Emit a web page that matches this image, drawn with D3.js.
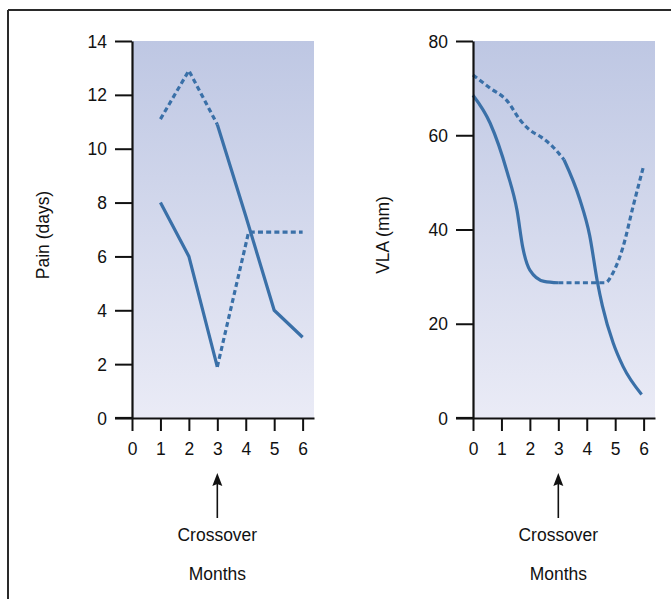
<!DOCTYPE html>
<html>
<head>
<meta charset="utf-8">
<script src="https://cdnjs.cloudflare.com/ajax/libs/d3/7.8.5/d3.min.js"></script>
<style>
  html, body { margin: 0; padding: 0; background: #fff; }
  svg { display: block; }
  text { font-family: "Liberation Sans", Arial, sans-serif; fill: #111; }
</style>
</head>
<body>
<svg id="fig" width="671" height="599"></svg>
<script>
// Month ticks shared by both panels
const monthTicks = [0, 1, 2, 3, 4, 5, 6];
const crossoverMonth = 3;

// Pain (days) — tick labels
const painTicks = [0, 2, 4, 6, 8, 10, 12, 14];
// Group A: starts solid, dotted after crossover
const painAMonths = [1, 2, 3, 4.1, 6];
const painAValues = [8, 6, 1.9, 6.9, 6.9];
// Group B: starts dotted, solid after crossover
const painBMonths = [1, 2, 3, 4, 5, 6];
const painBValues = [11.1, 12.9, 10.9, 7.5, 4, 3];

// VLA (mm) — tick labels
const vlaTicks = [0, 20, 40, 60, 80];
// Group A: solid then dotted
const vlaAMonths = [0, 0.6, 1.2, 1.55, 1.75, 2, 2.5, 3, 4.65, 4.93, 5.28, 5.63, 6];
const vlaAValues = [68.5, 62.6, 52.2, 44, 36.2, 31.4, 29, 28.7, 28.7, 30.9, 36.4, 44.9, 53.5];
// Group B: dotted then solid
const vlaBMonths = [0, 0.6, 1.2, 1.65, 2, 2.4, 2.8, 3.2, 3.76, 4.1, 4.38, 4.55, 4.93, 5.28, 5.93];
const vlaBValues = [72.8, 70, 67.3, 63.3, 61.1, 59.6, 57.6, 54.8, 46.3, 38.8, 28.7, 23.8, 15.9, 10.9, 5];

const svg = d3.select("#fig");
const lineColor = "#3a70a8";
const squeeze = 0.92;      // slightly condensed lettering
const labelSize = 19;

// gradient background of the plotting area
const defs = svg.append("defs");
const grad = defs.append("linearGradient")
  .attr("id", "bg").attr("x1", 0).attr("y1", 0).attr("x2", 0).attr("y2", 1);
grad.append("stop").attr("offset", "0%").attr("stop-color", "#bec7e3");
grad.append("stop").attr("offset", "100%").attr("stop-color", "#eaebf6");

// frame lines (top and left)
svg.append("line").attr("x1", 8).attr("x2", 671).attr("y1", 10).attr("y2", 10)
  .attr("stroke", "#2a2a2a").attr("stroke-width", 2);
svg.append("line").attr("x1", 8).attr("x2", 8).attr("y1", 10).attr("y2", 599)
  .attr("stroke", "#2a2a2a").attr("stroke-width", 2);

function label(g, x, y, txt, rotate) {
  return g.append("text")
    .attr("transform", `translate(${x},${y})${rotate ? " rotate(-90)" : ""} scale(${squeeze},1)`)
    .attr("text-anchor", "middle")
    .attr("font-size", labelSize)
    .text(txt);
}

function panel(opts) {
  const x = d3.scaleLinear().domain([0, 6.4]).range([opts.left, opts.left + 182]);
  const y = d3.scaleLinear().domain([0, opts.yMax]).range([418, 41]);
  const g = svg.append("g");

  g.append("rect")
    .attr("x", x(0)).attr("y", y(opts.yMax))
    .attr("width", x(6.4) - x(0)).attr("height", y(0) - y(opts.yMax))
    .attr("fill", "url(#bg)");

  const line = d3.line()
    .x(d => x(d[0])).y(d => y(d[1]))
    .curve(opts.curve);

  opts.series.forEach(s => {
    const pts = s.months.map((m, i) => [m, s.values[i]]);
    const first = pts.filter(p => p[0] <= s.split);
    const second = pts.filter(p => p[0] >= s.split);
    [[first, s.firstDotted], [second, !s.firstDotted]].forEach(([seg, dotted]) => {
      g.append("path")
        .datum(seg)
        .attr("d", line)
        .attr("fill", "none")
        .attr("stroke", lineColor)
        .attr("stroke-width", 3.2)
        .attr("stroke-dasharray", dotted ? "5,3.2" : null);
    });
  });

  // axes
  const yAxis = d3.axisLeft(y).tickValues(opts.yTicks).tickFormat(d3.format("d"))
    .tickSize(17).tickPadding(8).tickSizeOuter(0);
  const xAxis = d3.axisBottom(x).tickValues(monthTicks).tickFormat(d3.format("d"))
    .tickSize(13).tickPadding(11).tickSizeOuter(0);

  const ya = g.append("g").attr("transform", `translate(${x(0)},0)`).call(yAxis);
  const xa = g.append("g").attr("transform", `translate(0,${y(0)})`).call(xAxis);
  [ya, xa].forEach(a => {
    a.attr("font-size", labelSize);
    a.selectAll("path.domain").attr("stroke", "#111").attr("stroke-width", 2.2);
    a.selectAll(".tick line").attr("stroke", "#111").attr("stroke-width", 2);
    a.selectAll(".tick text").attr("font-size", labelSize)
      .attr("font-family", "Liberation Sans, Arial, sans-serif").attr("fill", "#111")
      .attr("transform", `scale(${squeeze},1)`);
  });
  ya.selectAll(".tick text").attr("x", -25 / squeeze);
  // x-axis line continues under the zero tick on the left
  g.append("line").attr("x1", x(0) - 17).attr("x2", x(0)).attr("y1", y(0)).attr("y2", y(0))
    .attr("stroke", "#111").attr("stroke-width", 2.2);

  // y-axis title
  label(g, opts.titleX, 235, opts.yTitle, true).attr("dy", "0.35em");

  // crossover arrow
  const cx = x(crossoverMonth);
  g.append("line").attr("x1", cx).attr("x2", cx).attr("y1", 484).attr("y2", 518)
    .attr("stroke", "#111").attr("stroke-width", 1.6);
  g.append("path")
    .attr("d", `M${cx},473 L${cx + 5},486 L${cx},484 L${cx - 5},486 Z`)
    .attr("fill", "#111");

  label(g, cx, 541, "Crossover");
  label(g, cx, 580, "Months");
}

panel({
  left: 132, yMax: 14, yTicks: painTicks, yTitle: "Pain (days)", titleX: 42,
  curve: d3.curveLinear,
  series: [
    { months: painAMonths, values: painAValues, split: crossoverMonth, firstDotted: false },
    { months: painBMonths, values: painBValues, split: crossoverMonth, firstDotted: true }
  ]
});

panel({
  left: 473, yMax: 80, yTicks: vlaTicks, yTitle: "VLA (mm)", titleX: 382,
  curve: d3.curveMonotoneX,
  series: [
    { months: vlaAMonths, values: vlaAValues, split: 3, firstDotted: false },
    { months: vlaBMonths, values: vlaBValues, split: 3.2, firstDotted: true }
  ]
});
</script>
</body>
</html>
